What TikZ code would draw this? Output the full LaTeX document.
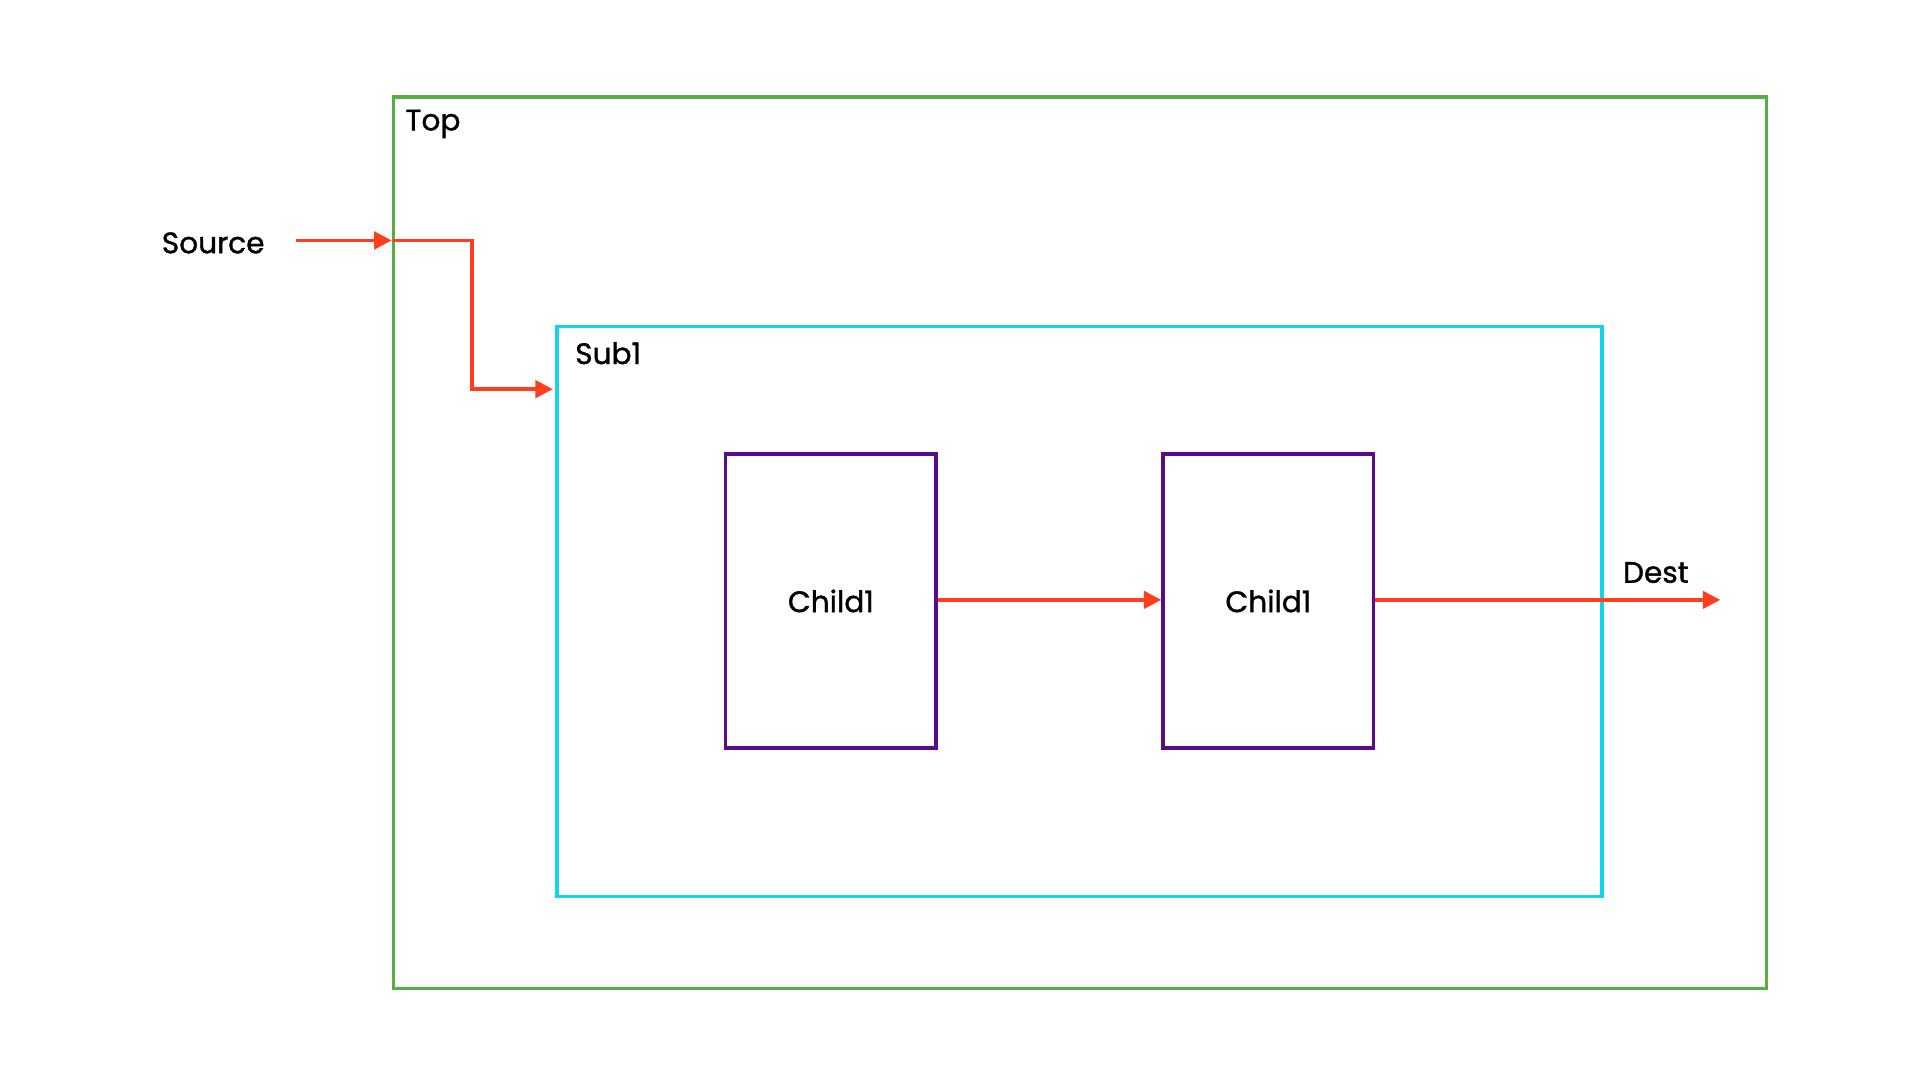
\documentclass[tikz,border=0pt]{standalone}
\usepackage{fontspec}
\setmainfont{Poppins}[FakeBold=1.2,AutoFakeBold=1.2]
\usetikzlibrary{arrows.meta}
\definecolor{cgreen}{HTML}{52B043}
\definecolor{ccyan}{HTML}{14D2F0}
\definecolor{cred}{HTML}{FF3D1F}
\definecolor{cpurp}{HTML}{5A0A8A}
\begin{document}
\begin{tikzpicture}[x=0.05cm,y=-0.05cm,
  lbl/.style={font=\fontsize{34}{40}\selectfont\bfseries, inner sep=0pt},
  box/.style={draw, line width=4pt},
  arr/.style={cred, line width=4pt, -{Triangle[length=20pt,width=20pt]}}]
\useasboundingbox (0,0) rectangle (1550,874);
\node[box, cgreen, minimum width=1108*0.05cm, minimum height=719*0.05cm, anchor=north west] (top) at (316,77) {};
\node[box, ccyan, minimum width=843*0.05cm, minimum height=460*0.05cm, anchor=north west] (sub) at (448,262) {};
\node[box, cpurp, minimum width=170*0.05cm, minimum height=237*0.05cm, anchor=north west] (c1) at (584,365) {};
\node[box, cpurp, minimum width=170*0.05cm, minimum height=237*0.05cm, anchor=north west] (c2) at (937,365) {};
\node[lbl] at (c1.center) {Child1};
\node[lbl] at (c2.center) {Child1};
\node[lbl, anchor=west] (toplbl) at (327,100) {Top};
\node[lbl, anchor=west] (sublbl) at (464,285) {Sub1};
\node[lbl] (src) at (172,196) {Source};
\node[lbl] (dst) at (1336,462) {Dest};
\coordinate (s0) at (239,194);
\coordinate (s1) at (316,194);
\coordinate (s2) at (446,314);
\coordinate (d1) at (1388,484);
\draw[arr] (s0) -- (s1);
\draw[arr] (s1) -- (381,194) -- (381,314) -- (s2);
\draw[arr] (757,484) -- (c2.west |- 0,484);
\draw[arr] (c2.east |- 0,484) -- (d1);
\end{tikzpicture}
\end{document}
